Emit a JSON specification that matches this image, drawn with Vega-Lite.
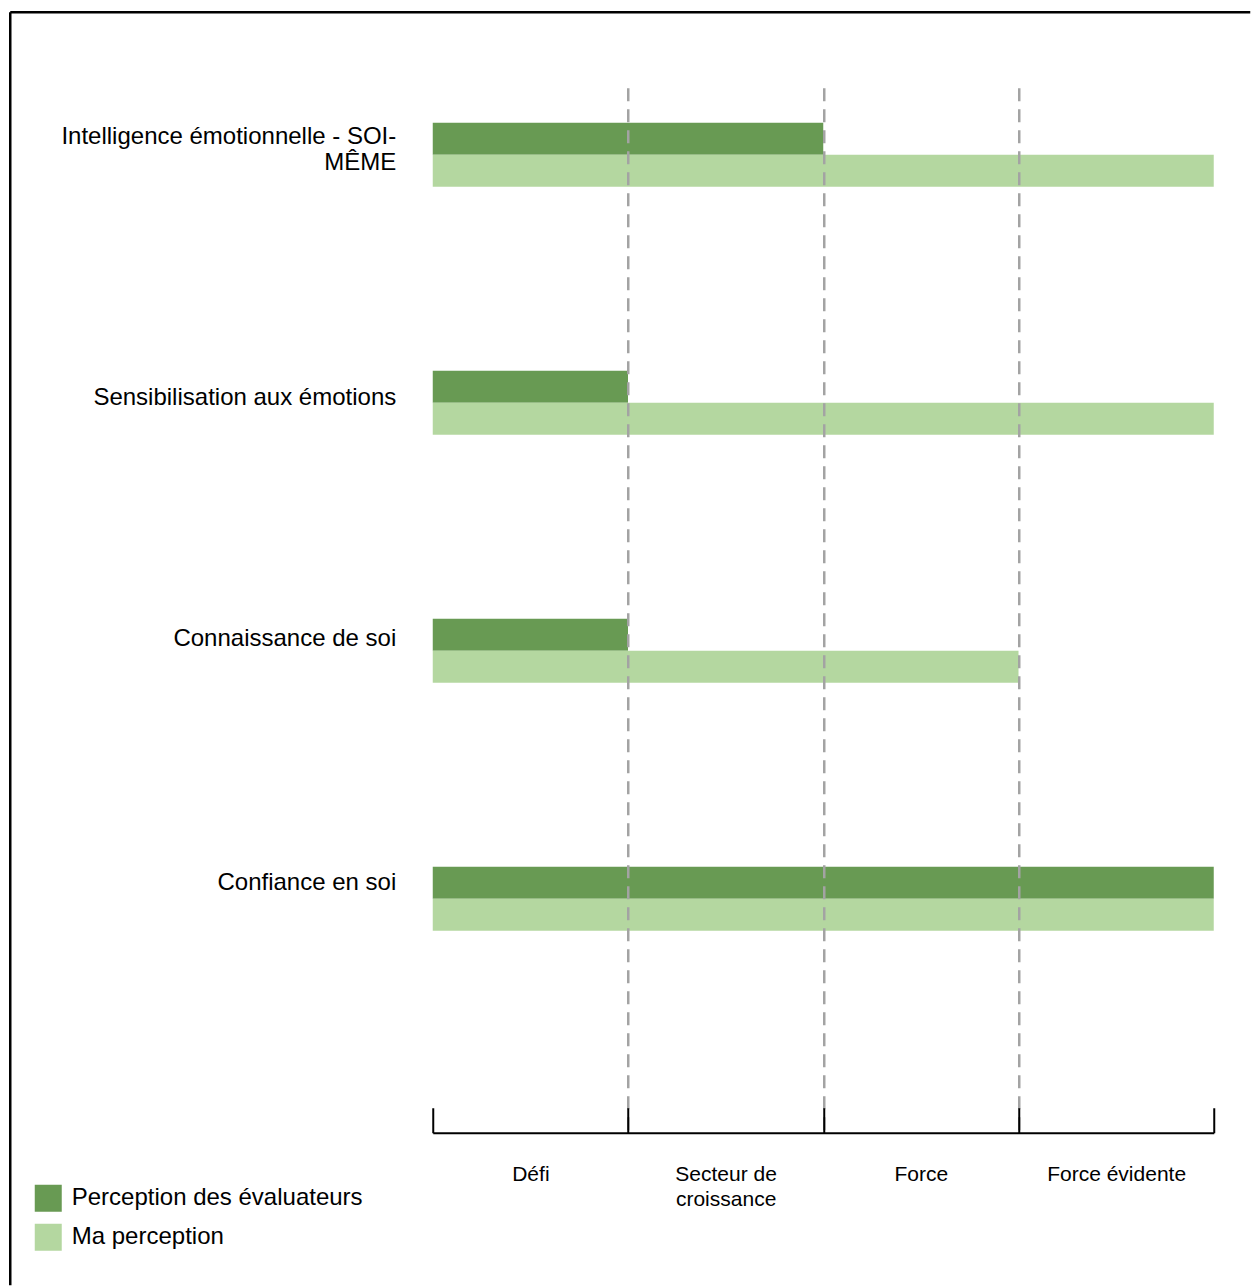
{
  "$schema": "https://vega.github.io/schema/vega-lite/v6.json",
  "width": 781,
  "height": 1045,
  "padding": {"left": 9.75, "top": 11.75, "right": 0, "bottom": 0},
  "background": "white",
  "config": {"view": {"stroke": null}, "font": "Liberation Sans"},
  "data": {
    "values": [
      {"competence": "Intelligence émotionnelle - SOI-MÊME", "serie": "Perception des évaluateurs", "valeur": 2},
      {"competence": "Intelligence émotionnelle - SOI-MÊME", "serie": "Ma perception", "valeur": 4},
      {"competence": "Sensibilisation aux émotions", "serie": "Perception des évaluateurs", "valeur": 1},
      {"competence": "Sensibilisation aux émotions", "serie": "Ma perception", "valeur": 4},
      {"competence": "Connaissance de soi", "serie": "Perception des évaluateurs", "valeur": 1},
      {"competence": "Connaissance de soi", "serie": "Ma perception", "valeur": 3},
      {"competence": "Confiance en soi", "serie": "Perception des évaluateurs", "valeur": 4},
      {"competence": "Confiance en soi", "serie": "Ma perception", "valeur": 4}
    ]
  },
  "layer": [
    {
      "mark": {"type": "bar", "cornerRadius": 0},
      "encoding": {
        "y": {
          "field": "competence",
          "type": "nominal",
          "sort": null,
          "scale": {"paddingInner": 0.742, "paddingOuter": 0.478, "align": 0.148},
          "axis": {
            "title": null,
            "domain": false,
            "ticks": false,
            "labelFontSize": 24,
            "labelColor": "#000000",
            "labelPadding": 37,
            "labelLimit": 600,
            "labelLineHeight": 26,
            "labelOffset": {
              "condition": [
                {"test": "datum.value == 'Intelligence émotionnelle - SOI-MÊME'", "value": -18},
                {"test": "datum.value == 'Sensibilisation aux émotions'", "value": -5},
                {"test": "datum.value == 'Connaissance de soi'", "value": -12}
              ],
              "value": -16
            },
            "labelExpr": "datum.value == 'Intelligence émotionnelle - SOI-MÊME' ? ['Intelligence émotionnelle - SOI-', 'MÊME'] : datum.value"
          }
        },
        "yOffset": {
          "field": "serie",
          "type": "nominal",
          "sort": ["Perception des évaluateurs", "Ma perception"],
          "scale": {"paddingInner": 0, "paddingOuter": 0}
        },
        "x": {
          "field": "valeur",
          "type": "quantitative",
          "scale": {"domain": [0, 4], "nice": false},
          "axis": {
            "title": null,
            "orient": "bottom",
            "zindex": 1,
            "values": [0, 0.5, 1, 1.5, 2, 2.5, 3, 3.5, 4],
            "domainColor": "#000000",
            "domainWidth": 2,
            "tickColor": "#000000",
            "tickWidth": 2,
            "tickSize": -25,
            "tickOpacity": {"condition": {"test": "datum.value % 1 != 0", "value": 0}, "value": 1},
            "grid": true,
            "gridColor": "#a3a3a3",
            "gridWidth": 2.5,
            "gridDash": [13, 8],
            "gridDashOffset": 18,
            "gridOpacity": {"condition": {"test": "datum.value > 0 && datum.value < 4 && datum.value % 1 == 0", "value": 1}, "value": 0},
            "labelExpr": "datum.value == 0.5 ? 'Défi' : datum.value == 1.5 ? ['Secteur de', 'croissance'] : datum.value == 2.5 ? 'Force' : datum.value == 3.5 ? 'Force évidente' : ''",
            "labelFontSize": 21,
            "labelColor": "#000000",
            "labelBaseline": "top",
            "labelLineHeight": 25,
            "labelPadding": 56,
            "labelFlush": false,
            "labelOverlap": false,
            "labelBound": false
          }
        },
        "color": {
          "field": "serie",
          "type": "nominal",
          "scale": {"domain": ["Perception des évaluateurs", "Ma perception"], "range": ["#689a53", "#b4d7a0"]},
          "legend": {
            "title": null,
            "orient": "none",
            "legendX": -398,
            "legendY": 1097,
            "padding": 0,
            "symbolType": "square",
            "symbolSize": 729,
            "symbolStrokeWidth": 0,
            "labelFontSize": 24,
            "labelColor": "#000000",
            "labelOffset": 10,
            "labelLimit": 500,
            "rowPadding": 12
          }
        }
      }
    },
    {
      "mark": {"type": "point", "opacity": 0},
      "encoding": {
        "x": {
          "datum": 0.5,
          "type": "quantitative",
          "scale": {"domain": [0, 1], "range": [-423, 817], "nice": false, "zero": false},
          "axis": {"orient": "top", "offset": 76, "title": null, "labels": false, "ticks": false, "grid": false, "domainColor": "#000000", "domainWidth": 2.5}
        },
        "y": {
          "datum": 0.5,
          "type": "quantitative",
          "scale": {"domain": [0, 1], "range": [-76, 1197], "nice": false, "zero": false},
          "axis": {"orient": "left", "offset": 423, "title": null, "labels": false, "ticks": false, "grid": false, "domainColor": "#000000", "domainWidth": 2.5}
        }
      }
    }
  ],
  "resolve": {"scale": {"x": "independent", "y": "independent"}, "axis": {"x": "independent", "y": "independent"}}
}
